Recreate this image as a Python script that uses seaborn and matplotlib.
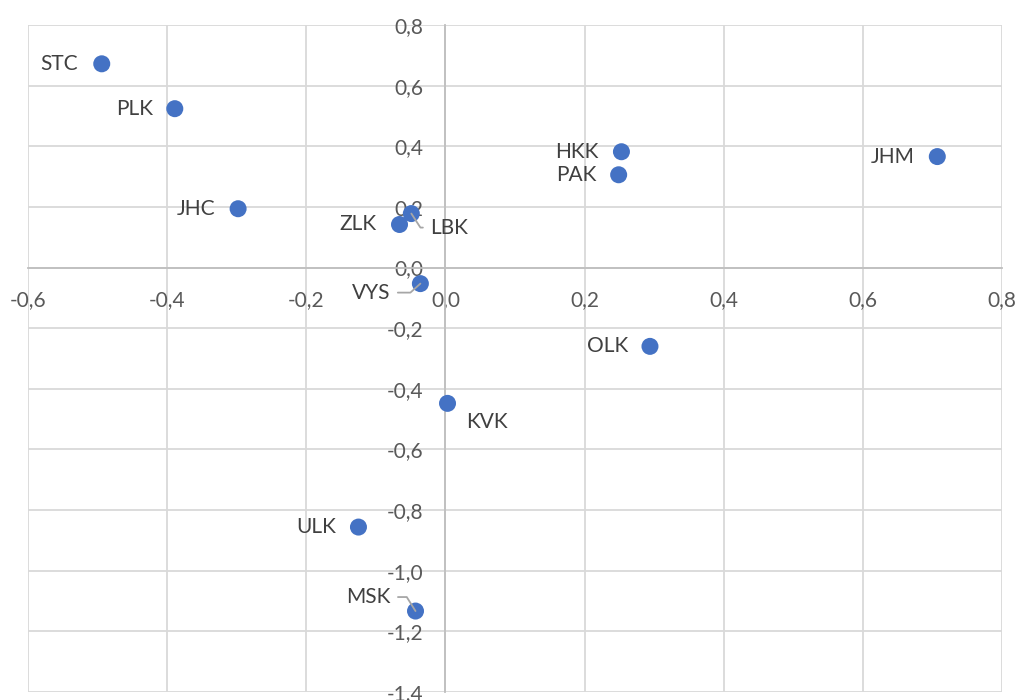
import numpy as np
import pandas as pd
import matplotlib
matplotlib.use("Agg")
import matplotlib.pyplot as plt
import seaborn as sns
from matplotlib.ticker import FuncFormatter, MultipleLocator

# regions and their coordinates
regions = ["STC", "PLK", "JHC", "ZLK", "LBK", "VYS", "HKK", "PAK",
           "JHM", "OLK", "KVK", "ULK", "MSK"]
x_vals = [-0.494, -0.389, -0.298, -0.066, -0.049, -0.036, 0.253, 0.249,
          0.707, 0.294, 0.003, -0.125, -0.043]
y_vals = [0.672, 0.524, 0.194, 0.142, 0.178, -0.053, 0.382, 0.306,
          0.366, -0.260, -0.448, -0.856, -1.133]

df = pd.DataFrame({"region": regions, "x": x_vals, "y": y_vals})

sns.set_theme(style="white")
plt.rcParams["font.family"] = ["Lato", "DejaVu Sans"]

fig = plt.figure(figsize=(10.2, 7), dpi=100)
ax = fig.add_axes([28 / 1020, 8 / 700, 974 / 1020, 667 / 700])

sns.scatterplot(data=df, x="x", y="y", ax=ax, color="#4472C4", s=150,
                edgecolor="none", zorder=3)

ax.set_xlim(-0.6, 0.8)
ax.set_ylim(-1.4, 0.8)
ax.xaxis.set_major_locator(MultipleLocator(0.2))
ax.yaxis.set_major_locator(MultipleLocator(0.2))
fmt = FuncFormatter(lambda v, p: f"{v:.1f}".replace(".", ",").replace("-0,0", "0,0"))
ax.xaxis.set_major_formatter(fmt)
ax.yaxis.set_major_formatter(fmt)
ax.grid(True, color="#D9D9D9", linewidth=1.3)
ax.set_axisbelow(True)

for side in ["top", "right"]:
    ax.spines[side].set_visible(False)
ax.spines["left"].set_position(("data", 0))
ax.spines["bottom"].set_position(("data", 0))
for side in ["left", "bottom"]:
    ax.spines[side].set_color("#BFBFBF")
    ax.spines[side].set_linewidth(1.3)
    ax.spines[side].set_zorder(1)

ax.tick_params(axis="x", length=0, pad=16, labelsize=15, labelcolor="#595959")
ax.tick_params(axis="y", length=0, pad=16, labelsize=15, labelcolor="#595959")
ax.set_xlabel("")
ax.set_ylabel("")

# label offsets in pixels: (dx, dy, ha)
offsets = {
    "STC": (-24, 0, "right"), "PLK": (-22, 0, "right"), "JHC": (-23, 0, "right"),
    "ZLK": (-23, 0, "right"), "HKK": (-23, 0, "right"), "PAK": (-22, 0, "right"),
    "JHM": (-23, 0, "right"), "OLK": (-22, 0, "right"), "ULK": (-22, 0, "right"),
    "KVK": (19, -19, "left"), "LBK": (19, -14, "left"), "VYS": (-30, -9, "right"),
    "MSK": (-25, 14, "right"),
}
# leader lines: elbow from the label, then a slanted run into the point
leaders = {"LBK": ("angle,angleA=0,angleB=-57,rad=0", (0, 0.5)),
           "VYS": ("angle,angleA=0,angleB=42,rad=0", (1, 0.5)),
           "MSK": ("angle,angleA=0,angleB=-58,rad=0", (1, 0.5))}

for _, r in df.iterrows():
    dx, dy, ha = offsets[r["region"]]
    kw = {}
    if r["region"] in leaders:
        cs, rp = leaders[r["region"]]
        kw["arrowprops"] = dict(arrowstyle="-", color="#A6A6A6", lw=1.3,
                                connectionstyle=cs, relpos=rp,
                                shrinkA=3, shrinkB=0)
    ax.annotate(r["region"], (r["x"], r["y"]), xytext=(dx, dy),
                textcoords="offset pixels", ha=ha, va="center",
                fontsize=15, color="#404040", zorder=4, **kw)

fig.savefig("out.png", dpi=100)
